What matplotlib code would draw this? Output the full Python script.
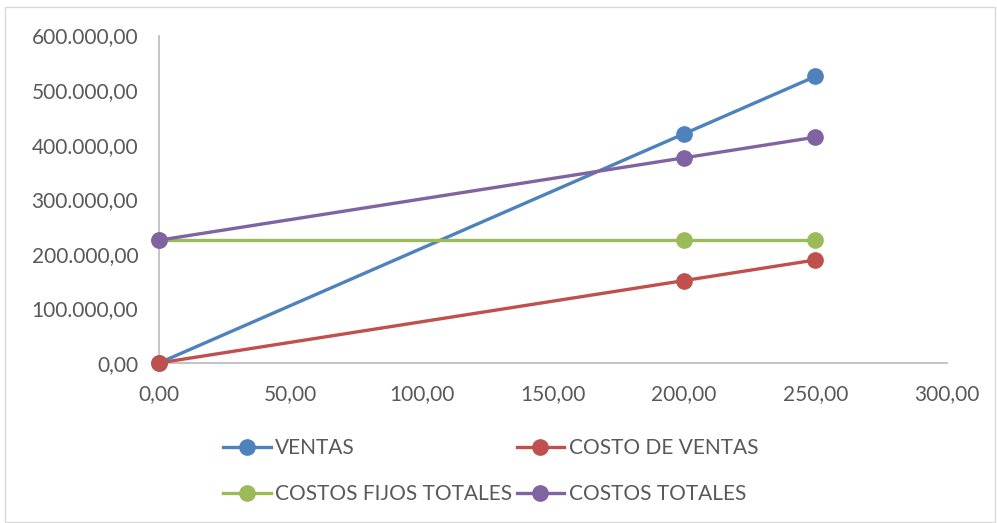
import matplotlib
matplotlib.use("Agg")
import matplotlib.pyplot as plt
from matplotlib.patches import Rectangle
from matplotlib.ticker import FuncFormatter

# datos del punto de equilibrio
unidades = [0, 200, 250]
ventas = [0, 420000, 525000]
costo_ventas = [0, 151000, 188750]
costos_fijos = [225000, 225000, 225000]
costos_totales = [225000, 376000, 413750]

series = [
    ("VENTAS", ventas, "#4F81BD"),
    ("COSTO DE VENTAS", costo_ventas, "#C0504D"),
    ("COSTOS FIJOS TOTALES", costos_fijos, "#9BBB59"),
    ("COSTOS TOTALES", costos_totales, "#8064A2"),
]

plt.rcParams['font.family'] = ['Lato', 'DejaVu Sans']
txt = "#595959"


def es_num(v, pos=None):
    s = f"{v:,.2f}"
    return s.replace(",", "X").replace(".", ",").replace("X", ".")


fig = plt.figure(figsize=(9.97, 5.23), dpi=100)
fig.patches.append(Rectangle((5 / 997, 1 / 523), 990 / 997, 515 / 523,
                             transform=fig.transFigure, fill=False,
                             edgecolor="#d9d9d9", linewidth=1))
ax = fig.add_axes([0.1595, 0.306, 0.790, 0.626])

lines = {}
for name, vals, col in series:
    ln, = ax.plot(unidades, vals, color=col, linewidth=2.4, marker="o",
                  markersize=11, label=name, clip_on=False, zorder=3)
    lines[name] = ln

ax.set_xlim(0, 300)
ax.set_ylim(0, 600000)
ax.set_xticks([0, 50, 100, 150, 200, 250, 300])
ax.set_yticks(range(0, 600001, 100000))
ax.xaxis.set_major_formatter(FuncFormatter(es_num))
ax.yaxis.set_major_formatter(FuncFormatter(es_num))

for s in ["top", "right"]:
    ax.spines[s].set_visible(False)
for s in ["left", "bottom"]:
    ax.spines[s].set_color("#bfbfbf")
    ax.spines[s].set_linewidth(1.3)
ax.tick_params(axis="both", labelcolor=txt, labelsize=15, length=0)
ax.tick_params(axis="y", pad=15)
ax.tick_params(axis="x", pad=15)

order = ["VENTAS", "COSTOS FIJOS TOTALES", "COSTO DE VENTAS", "COSTOS TOTALES"]
leg = fig.legend([lines[n] for n in order], order, ncol=2, frameon=False,
                 loc="upper left", bbox_to_anchor=(0.205, 0.198),
                 fontsize=15, handlelength=2.3, handletextpad=0.2,
                 columnspacing=0.2, labelspacing=1.25)
for t in leg.get_texts():
    t.set_color(txt)

fig.savefig("out.png", dpi=100)
